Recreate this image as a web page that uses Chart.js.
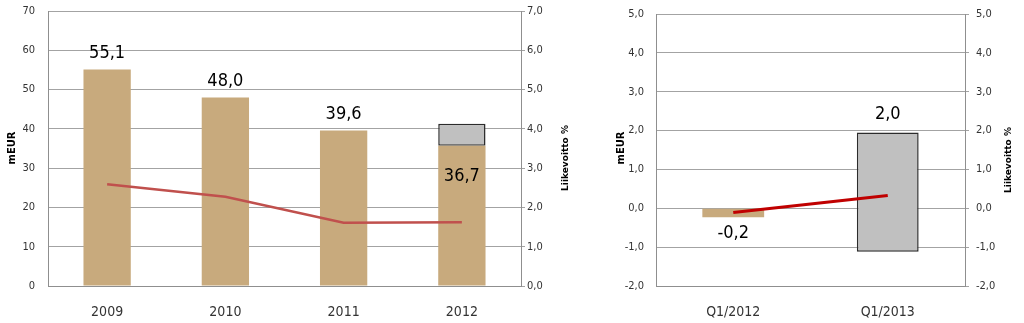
<!DOCTYPE html>
<html>
<head>
<meta charset="utf-8">
<script src="https://cdn.jsdelivr.net/npm/chart.js@4"></script>
<style>
  html, body { margin: 0; padding: 0; background: #fff; }
  body { width: 1024px; height: 323px; position: relative; overflow: hidden; }
  #wrapA { position: absolute; left: 0; top: 0; width: 590px; height: 323px; }
  #wrapB { position: absolute; left: 590px; top: 0; width: 434px; height: 323px; }
</style>
</head>
<body>
<div id="wrapA"><canvas id="chartA"></canvas></div>
<div id="wrapB"><canvas id="chartB"></canvas></div>
<script>
// ---- Left chart data ----
const years = ['2009', '2010', '2011', '2012'];
const ebitMain = [55.1, 48.0, 39.6, 35.7];
const ebitExtra = [null, null, null, 5.6];
const marginYear = [2.59, 2.27, 1.61, 1.62];
const yearLabels = ['55,1', '48,0', '39,6', '36,7'];
const leftTicks = [0, 10, 20, 30, 40, 50, 60, 70];
const leftPctTicks = [0, 1, 2, 3, 4, 5, 6, 7];

// ---- Right chart data ----
const quarters = ['Q1/2012', 'Q1/2013'];
const qLow = [-0.23, -1.12];
const qHigh = [0, 1.95];
const qMargin = [-0.11, 0.33];
const qLabels = ['-0,2', '2,0'];
const rightTicks = [-2, -1, 0, 1, 2, 3, 4, 5];

const BROWN = '#c8aa7d';
const GREY = '#c0c0c0';
const GRID = '#a3a3a3';
const AXIS = '#8f8f8f';
const TICK = '#333333';
const FONT = '"DejaVu Sans Condensed", "DejaVu Sans", sans-serif';

const comma = v => Number(v).toFixed(1).replace('.', ',');

function fixW(w) { return function (s) { s.width = w; s.paddingTop = 0; s.paddingBottom = 0; }; }
function fixH(h) { return function (s) { s.height = h; }; }

function titlesPlugin(leftOff, leftY, rightOff, rightY) {
  return {
    id: 'titles',
    afterDraw(chart) {
      const ctx = chart.ctx, a = chart.chartArea;
      ctx.save();
      ctx.fillStyle = '#000';
      ctx.textAlign = 'center';
      ctx.textBaseline = 'middle';
      ctx.font = 'bold 10px "DejaVu Sans", sans-serif';
      ctx.translate(a.left - leftOff, leftY);
      ctx.rotate(-Math.PI / 2);
      ctx.fillText('mEUR', 0, 0);
      ctx.restore();
      ctx.save();
      ctx.fillStyle = '#000';
      ctx.textAlign = 'center';
      ctx.textBaseline = 'middle';
      ctx.font = 'bold 9px "DejaVu Sans", sans-serif';
      ctx.translate(a.right + rightOff, rightY);
      ctx.rotate(-Math.PI / 2);
      ctx.fillText('Liikevoitto %', 0, 0);
      ctx.restore();
    }
  };
}

// value labels for left chart
const labelsA = {
  id: 'labelsA',
  afterDatasetsDraw(chart) {
    const ctx = chart.ctx, xs = chart.scales.x, ys = chart.scales.y;
    ctx.save();
    ctx.fillStyle = '#000';
    ctx.font = '18px ' + FONT;
    ctx.textAlign = 'center';
    ctx.textBaseline = 'middle';
    years.forEach((c, i) => {
      const x = xs.getPixelForValue(i);
      const top = ys.getPixelForValue(ebitMain[i]);
      const y = ebitExtra[i] ? top + 31 : top - 16;
      ctx.fillText(yearLabels[i], x, y);
    });
    ctx.restore();
  }
};

const labelsB = {
  id: 'labelsB',
  afterDatasetsDraw(chart) {
    const ctx = chart.ctx, xs = chart.scales.x, ys = chart.scales.y;
    ctx.save();
    ctx.fillStyle = '#000';
    ctx.font = '18px ' + FONT;
    ctx.textAlign = 'center';
    ctx.textBaseline = 'middle';
    quarters.forEach((c, i) => {
      const x = xs.getPixelForValue(i);
      if (qHigh[i] > 0) {
        ctx.fillText(qLabels[i], x, ys.getPixelForValue(qHigh[i]) - 18);
      } else {
        ctx.fillText(qLabels[i], x, ys.getPixelForValue(qLow[i]) + 16);
      }
    });
    ctx.restore();
  }
};

Chart.defaults.animation = false;
Chart.defaults.font.family = FONT;

new Chart(document.getElementById('chartA'), {
  data: {
    labels: years,
    datasets: [
      {
        type: 'line', data: marginYear, yAxisID: 'y1',
        borderColor: '#c0504d', borderWidth: 2.5, pointRadius: 0,
        tension: 0, order: 0
      },
      {
        type: 'bar', data: ebitMain, yAxisID: 'y',
        backgroundColor: BROWN, borderWidth: 0,
        categoryPercentage: 1, barPercentage: 0.4, order: 1
      },
      {
        type: 'bar', data: ebitExtra, yAxisID: 'y',
        backgroundColor: GREY, borderColor: '#2b2b2b', borderWidth: 1.5, borderSkipped: false,
        categoryPercentage: 1, barPercentage: 0.4, order: 2
      }
    ]
  },
  options: {
    responsive: true, maintainAspectRatio: false,
    layout: { padding: { top: 11, bottom: 0, left: 0, right: 0 } },
    plugins: { legend: { display: false }, tooltip: { enabled: false } },
    scales: {
      x: {
        stacked: true,
        grid: { display: false },
        border: { display: true, color: AXIS, width: 1 },
        ticks: { color: TICK, font: { size: 14 }, padding: 10 },
        afterFit: fixH(37)
      },
      y: {
        stacked: true, position: 'left',
        min: 0, max: 70,
        afterBuildTicks: s => { s.ticks = leftTicks.map(v => ({ value: v })); },
        grid: { color: GRID, drawTicks: false },
        border: { display: true, color: AXIS },
        ticks: { color: TICK, font: { size: 11 }, padding: 13, callback: v => String(v) },
        afterFit: fixW(48)
      },
      y1: {
        position: 'right', min: 0, max: 7,
        afterBuildTicks: s => { s.ticks = leftPctTicks.map(v => ({ value: v })); },
        grid: { drawOnChartArea: false, drawTicks: true, tickLength: 4, color: GRID },
        border: { display: true, color: AXIS },
        ticks: { color: TICK, font: { size: 11 }, padding: 2, callback: v => comma(v) },
        afterFit: fixW(69)
      }
    }
  },
  plugins: [labelsA, titlesPlugin(36, 148, 45, 158)]
});

new Chart(document.getElementById('chartB'), {
  data: {
    labels: quarters,
    datasets: [
      {
        type: 'line', data: qMargin, yAxisID: 'y1',
        borderColor: '#c00000', borderWidth: 3, pointRadius: 0,
        tension: 0, order: 0
      },
      {
        type: 'bar', yAxisID: 'y',
        data: quarters.map((q, i) => [qLow[i], qHigh[i]]),
        backgroundColor: [BROWN, GREY],
        borderColor: '#2b2b2b', borderWidth: [0, 1.5], borderSkipped: false,
        categoryPercentage: 1, barPercentage: 0.4, order: 1
      }
    ]
  },
  options: {
    responsive: true, maintainAspectRatio: false,
    layout: { padding: { top: 14, bottom: 0, left: 0, right: 0 } },
    plugins: { legend: { display: false }, tooltip: { enabled: false } },
    scales: {
      x: {
        grid: { display: false },
        border: { display: true, color: AXIS, width: 1 },
        ticks: { color: TICK, font: { size: 14 }, padding: 10 },
        afterFit: fixH(37)
      },
      y: {
        position: 'left', min: -2, max: 5,
        afterBuildTicks: s => { s.ticks = rightTicks.map(v => ({ value: v })); },
        grid: { color: GRID, drawTicks: false },
        border: { display: true, color: AXIS },
        ticks: { color: TICK, font: { size: 11 }, padding: 12, callback: v => comma(v) },
        afterFit: fixW(66)
      },
      y1: {
        position: 'right', min: -2, max: 5,
        afterBuildTicks: s => { s.ticks = rightTicks.map(v => ({ value: v })); },
        grid: { drawOnChartArea: false, drawTicks: true, tickLength: 4, color: GRID },
        border: { display: true, color: AXIS },
        ticks: { color: TICK, font: { size: 11 }, padding: 7, callback: v => comma(v) },
        afterFit: fixW(59)
      }
    }
  },
  plugins: [labelsB, titlesPlugin(35, 148, 44, 160)]
});
</script>
</body>
</html>
